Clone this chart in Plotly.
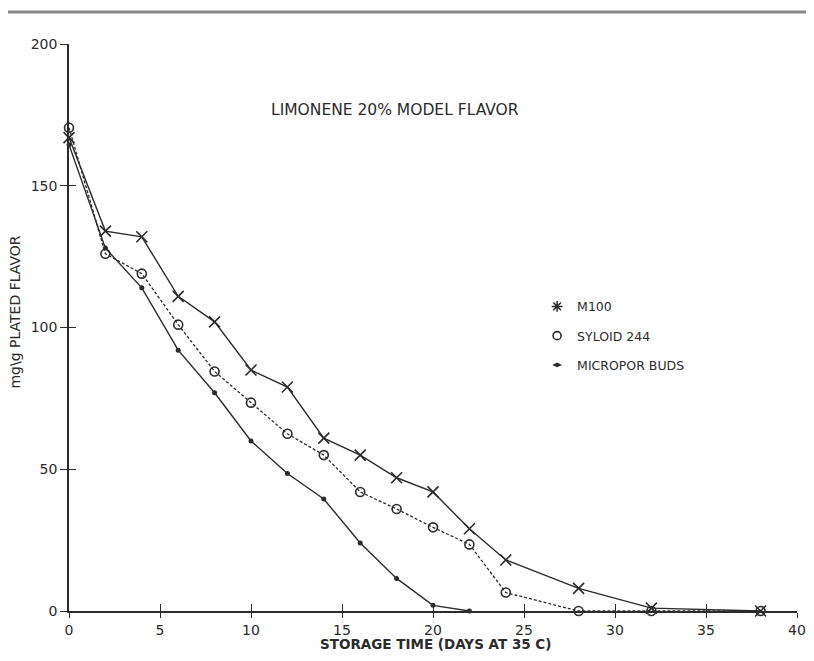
import plotly.graph_objects as go

# ---- data ----
days_m100 = [0, 2, 4, 6, 8, 10, 12, 14, 16, 18, 20, 22, 24, 28, 32, 38]
m100 = [167, 134, 132, 111, 102, 85, 79, 61, 55, 47, 42, 29, 18, 8, 1, 0]

days_syloid = [0, 2, 4, 6, 8, 10, 12, 14, 16, 18, 20, 22, 24, 28, 32, 38]
syloid = [170.5, 126, 119, 101, 84.5, 73.5, 62.5, 55, 42, 36, 29.5, 23.5, 6.5, 0, 0, 0]

days_micropor = [0, 2, 4, 6, 8, 10, 12, 14, 16, 18, 20, 22]
micropor = [164.5, 128, 114, 92, 77, 60, 48.5, 39.5, 24, 11.5, 2, 0]

x_ticks = [0, 5, 10, 15, 20, 25, 30, 35, 40]
y_ticks = [0, 50, 100, 150, 200]

INK = "#2b2b2b"
FONT = "DejaVu Sans, Liberation Sans, Arial, sans-serif"

fig = go.Figure()

fig.add_trace(go.Scatter(
    x=days_m100, y=m100, mode="lines+markers", showlegend=False,
    line=dict(color=INK, width=1.4),
    marker=dict(symbol="x-thin-open", size=11, color=INK, line=dict(color=INK, width=1.6)),
    cliponaxis=False))
fig.add_trace(go.Scatter(
    x=days_syloid, y=syloid, mode="lines+markers", showlegend=False,
    line=dict(color=INK, width=1.3, dash="3px,2px"),
    marker=dict(symbol="circle-open", size=9, color=INK, line=dict(color=INK, width=1.6)),
    cliponaxis=False))
fig.add_trace(go.Scatter(
    x=days_micropor, y=micropor, mode="lines+markers", showlegend=False,
    line=dict(color=INK, width=1.4),
    marker=dict(symbol="circle", size=5, color=INK),
    cliponaxis=False))

# legend-only entries (symbol only, as in the reference)
fig.add_trace(go.Scatter(x=[None], y=[None], mode="markers", name="M100", legendgroup="a",
                         marker=dict(symbol="asterisk-open", size=9, color=INK,
                                     line=dict(color=INK, width=1.5))))
fig.add_trace(go.Scatter(x=[None], y=[None], mode="markers", name="SYLOID 244", legendgroup="b",
                         marker=dict(symbol="circle-open", size=8, color=INK,
                                     line=dict(color=INK, width=1.6))))
fig.add_trace(go.Scatter(x=[None], y=[None], mode="markers", name="MICROPOR BUDS", legendgroup="c",
                         marker=dict(symbol="diamond-wide", size=7, color=INK)))

# overlay axes to draw the inner half of the crossing tick marks
fig.add_trace(go.Scatter(x=[None], y=[None], xaxis="x2", yaxis="y2", showlegend=False))

axis_common = dict(showgrid=False, zeroline=False, color=INK, automargin=False,
                   tickfont=dict(family=FONT, size=14, color=INK))

fig.update_layout(
    width=798, height=645,
    margin=dict(l=61, r=9, t=36, b=42),
    paper_bgcolor="white", plot_bgcolor="white",
    font=dict(family=FONT, color=INK),
    xaxis=dict(range=[0, 40], tickvals=x_ticks, ticks="outside", ticklen=5, tickwidth=1.4,
               tickcolor=INK, showline=True, linecolor=INK, linewidth=1.6, **axis_common),
    yaxis=dict(range=[0, 200], tickvals=y_ticks, ticks="outside", ticklen=7, tickwidth=1.4,
               tickcolor=INK, showline=True, linecolor=INK, linewidth=1.6, **axis_common),
    xaxis2=dict(range=[0, 40], tickvals=x_ticks, overlaying="x", anchor="y2", side="bottom",
                ticks="inside", ticklen=7, tickwidth=1.4, tickcolor=INK,
                showticklabels=False, showline=False, showgrid=False, zeroline=False),
    yaxis2=dict(range=[0, 200], tickvals=y_ticks, overlaying="y", anchor="x2", side="left",
                ticks="inside", ticklen=7, tickwidth=1.4, tickcolor=INK,
                showticklabels=False, showline=False, showgrid=False, zeroline=False),
    legend=dict(x=0.643, y=0.563, xanchor="left", yanchor="top",
                font=dict(family=FONT, size=12.5, color=INK),
                itemwidth=30, tracegroupgap=10, bgcolor="rgba(0,0,0,0)"),
    annotations=[
        dict(text="LIMONENE 20% MODEL FLAVOR", x=0.4478, y=0.8836, xref="paper", yref="paper",
             xanchor="center", yanchor="middle",
             showarrow=False, font=dict(family=FONT, size=15.5, color=INK)),
        dict(text="<b>STORAGE TIME (DAYS AT 35 C)</b>", x=0.504, y=-0.059, xref="paper", yref="paper",
             xanchor="center", yanchor="middle",
             showarrow=False, font=dict(family=FONT, size=13.5, color=INK)),
        dict(text="mg\\g PLATED FLAVOR", x=-0.0742, y=0.528, xref="paper", yref="paper",
             xanchor="center", yanchor="middle",
             textangle=-90, showarrow=False, font=dict(family=FONT, size=14, color=INK)),
    ],
    shapes=[
        dict(type="line", xref="paper", yref="paper", x0=-0.2, x1=1.2, y0=1.0564, y1=1.0564,
             line=dict(color="#8a8a8a", width=3)),
    ],
)

fig.write_html("out.html")
